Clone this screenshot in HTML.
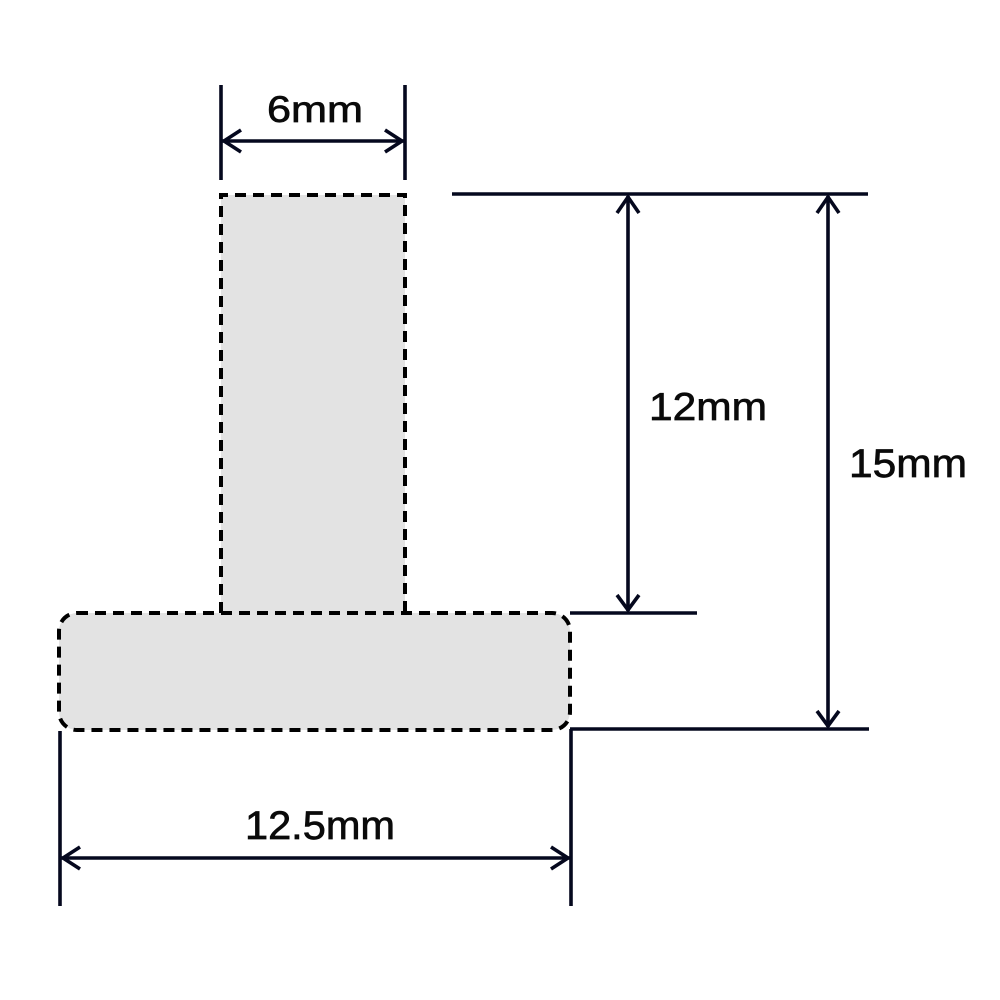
<!DOCTYPE html>
<html><head><meta charset="utf-8"><style>
html,body{margin:0;padding:0;background:#fff;}
svg{display:block;}
text{font-family:"Liberation Sans",Arial,sans-serif;fill:#0a0a0a;stroke:#0a0a0a;stroke-width:0.7;}
</style></head><body>
<svg width="1000" height="1000" viewBox="0 0 1000 1000" xmlns="http://www.w3.org/2000/svg">
<rect width="1000" height="1000" fill="#fff"/>
<!-- shapes -->
<rect x="221" y="195" width="184" height="430" fill="#e3e3e3"/>
<rect x="59" y="613" width="511" height="117" rx="18" ry="18" fill="#e3e3e3" stroke="#000" stroke-width="4" stroke-dasharray="11,7"/>
<path d="M221,613 L221,195 L405,195 L405,613" fill="none" stroke="#000" stroke-width="4" stroke-dasharray="11,7"/>

<g stroke="#05081e" stroke-width="3.6" fill="none" stroke-linecap="butt" stroke-linejoin="miter">
<!-- 6mm -->
<line x1="221" y1="85" x2="221" y2="180"/>
<line x1="405" y1="85" x2="405" y2="180"/>
<line x1="222" y1="141" x2="404" y2="141"/>
<polyline points="241,130 224,141 241,152"/>
<polyline points="385,130 402,141 385,152"/>
<!-- top line -->
<line x1="452" y1="194" x2="868" y2="194"/>
<!-- 12mm -->
<line x1="628" y1="196" x2="628" y2="611"/>
<polyline points="617,213 628,197 639,213"/>
<polyline points="617,595 628,610 639,595"/>
<line x1="570" y1="613" x2="697" y2="613"/>
<!-- 15mm -->
<line x1="828" y1="196" x2="828" y2="727"/>
<polyline points="817,213 828,197 839,213"/>
<polyline points="817,711 828,726 839,711"/>
<line x1="570" y1="729" x2="869" y2="729"/>
<!-- 12.5mm -->
<line x1="571" y1="729" x2="571" y2="906"/>
<line x1="60" y1="731" x2="60" y2="906"/>
<line x1="61" y1="858" x2="570" y2="858"/>
<polyline points="80,847 63,858 80,869"/>
<polyline points="551,847 568,858 551,869"/>
</g>

<text x="267" y="122" font-size="37" textLength="96" lengthAdjust="spacingAndGlyphs">6mm</text>
<text x="649" y="420" font-size="39" textLength="118" lengthAdjust="spacingAndGlyphs">12mm</text>
<text x="849" y="477" font-size="40" textLength="118" lengthAdjust="spacingAndGlyphs">15mm</text>
<text x="245" y="839" font-size="40" textLength="150" lengthAdjust="spacingAndGlyphs">12.5mm</text>
</svg>
</body></html>
